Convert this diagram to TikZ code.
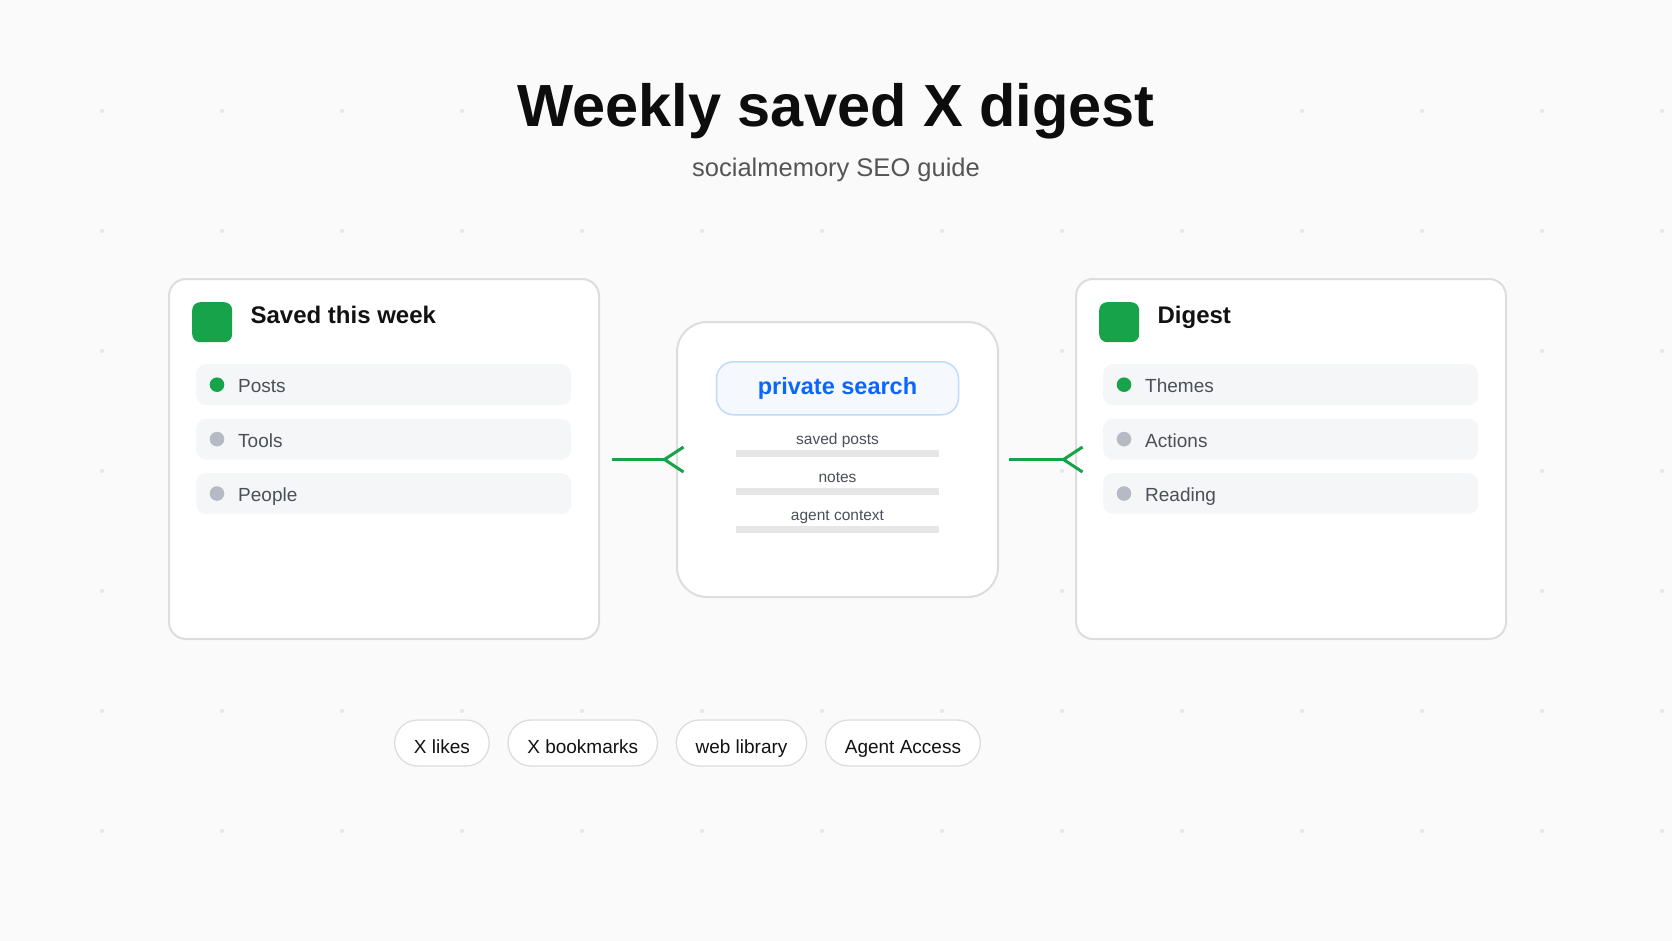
\documentclass[tikz,border=0pt]{standalone}
\usepackage{fontspec}
\setmainfont{Liberation Sans}
\usepackage{tikz}
\usetikzlibrary{arrows.meta,calc,positioning}
\definecolor{bg}{HTML}{FAFAFA}
\definecolor{dotgrey}{HTML}{E4E4E4}
\definecolor{cardline}{HTML}{DDDDDD}
\definecolor{rowfill}{HTML}{F5F6F8}
\definecolor{okgreen}{HTML}{16A34A}
\definecolor{idlegrey}{HTML}{B6BAC4}
\definecolor{rowtext}{HTML}{4B4F58}
\definecolor{subgrey}{HTML}{555555}
\definecolor{searchblue}{HTML}{0A66FF}
\definecolor{searchline}{HTML}{BFDBFE}
\definecolor{searchfill}{HTML}{F5F8FC}
\definecolor{bartone}{HTML}{E6E6E6}
\newcommand{\fsz}[1]{\fontsize{#1}{#1}\selectfont}
\tikzstyle{card} = [rectangle, draw=cardline, line width=2pt, fill=white, rounded corners=17pt, minimum width=430pt, minimum height=360pt, inner sep=0pt]
\tikzstyle{icon} = [rectangle, fill=okgreen, rounded corners=8pt, minimum size=40pt, inner sep=0pt]
\tikzstyle{cardtitle} = [font=\bfseries\fsz{24}, text=black!93, inner sep=0pt, anchor=base west]
\tikzstyle{row} = [rectangle, fill=rowfill, rounded corners=10pt, minimum width=375pt, minimum height=41pt, inner sep=0pt]
\tikzstyle{okdot} = [circle, fill=okgreen, minimum size=14.6pt, inner sep=0pt]
\tikzstyle{idledot} = [okdot, fill=idlegrey]
\tikzstyle{rowlabel} = [font=\fsz{19}, text=rowtext, inner sep=0pt, anchor=base west]
\tikzstyle{searchpill} = [rectangle, draw=searchline, line width=1.5pt, fill=searchfill, rounded corners=17pt, minimum width=242pt, minimum height=53pt, text=searchblue, font=\bfseries\fsz{23.5}]
\tikzstyle{ctxlabel} = [font=\fsz{15.5}, text=rowtext, inner sep=0pt, anchor=base]
\tikzstyle{ctxbar} = [rectangle, fill=bartone, minimum width=203pt, minimum height=7.4pt, inner sep=0pt, anchor=north]
\tikzstyle{link} = [draw=okgreen, line width=3pt, -{Straight Barb[reversed, length=19pt, width=25pt]}]
\tikzstyle{tag} = [rectangle, draw=cardline, line width=1.3pt, fill=white, rounded corners=23pt, minimum height=46pt, inner xsep=19.3pt, inner ysep=0pt, text height=20pt, text depth=0pt, font=\fsz{19}, text=black!93]

\begin{document}
\begin{tikzpicture}[x=1pt, y=-1pt]
      \path[use as bounding box, fill=bg] (0,0) rectangle (1672,941);
      \foreach \gx in {0,...,13}
        \foreach \gy in {0,...,6}
          \fill[dotgrey] ({102+120*\gx},{111+120*\gy}) circle (2pt);
      %
      \node[fill=bg, inner xsep=40pt, inner ysep=6pt, font=\bfseries\fsz{59.5}, text=black!95, anchor=base] (DigestTitle) at (836,126.7) {Weekly saved X digest};
      \node[font=\fsz{25.5}, text=subgrey, anchor=base] (GuideSubtitle) at (836,176.7) {socialmemory SEO guide};
      %
      \node[card, anchor=north west] (SavedCard) at (168,278) {};
      \node[icon, anchor=north west] (SavedIcon) at ($(SavedCard.north west)+(24,24)$) {};
      \node[cardtitle] (SavedTitle) at ($(SavedIcon.east)+(18,1)$) {Saved this week};
      \node[row, anchor=north west] (Posts) at ($(SavedCard.north west)+(28,86)$) {};
      \node[row, below=13pt of Posts] (Tools) {};
      \node[row, below=13pt of Tools] (People) {};
      \node[okdot] (PostsDot) at ($(Posts.west)+(21,0)$) {};
      \node[idledot] (ToolsDot) at ($(Tools.west)+(21,0)$) {};
      \node[idledot] (PeopleDot) at ($(People.west)+(21,0)$) {};
      \node[rowlabel] (PostsText) at ($(Posts.west)+(42,8)$) {Posts};
      \node[rowlabel] (ToolsText) at ($(Tools.west)+(42,8)$) {Tools};
      \node[rowlabel] (PeopleText) at ($(People.west)+(42,8)$) {People};
      %
      \node[card, minimum width=321pt, minimum height=275pt, rounded corners=30pt, anchor=north west] (SearchCard) at (676,321) {};
      \node[searchpill, anchor=north] (PrivateSearch) at ($(SearchCard.north)+(0,40)$) {private search};
      \node[ctxlabel] (SavedPostsLabel) at ($(SearchCard.north)+(0,123.5)$) {saved posts};
      \node[ctxlabel] (NotesLabel) at ($(SearchCard.north)+(0,161.5)$) {notes};
      \node[ctxlabel] (AgentLabel) at ($(SearchCard.north)+(0,199.5)$) {agent context};
      \node[ctxbar] (SavedPostsBar) at ($(SavedPostsLabel.base)+(0,5)$) {};
      \node[ctxbar] (NotesBar) at ($(NotesLabel.base)+(0,5)$) {};
      \node[ctxbar] (AgentBar) at ($(AgentLabel.base)+(0,5)$) {};
      %
      \node[card, anchor=north west] (DigestCard) at (1075,278) {};
      \node[icon, anchor=north west] (DigestIcon) at ($(DigestCard.north west)+(24,24)$) {};
      \node[cardtitle] (DigestHead) at ($(DigestIcon.east)+(18,1)$) {Digest};
      \node[row, anchor=north west] (Themes) at ($(DigestCard.north west)+(28,86)$) {};
      \node[row, below=13pt of Themes] (Actions) {};
      \node[row, below=13pt of Actions] (Reading) {};
      \node[okdot] (ThemesDot) at ($(Themes.west)+(21,0)$) {};
      \node[idledot] (ActionsDot) at ($(Actions.west)+(21,0)$) {};
      \node[idledot] (ReadingDot) at ($(Reading.west)+(21,0)$) {};
      \node[rowlabel] (ThemesText) at ($(Themes.west)+(42,8)$) {Themes};
      \node[rowlabel] (ActionsText) at ($(Actions.west)+(42,8)$) {Actions};
      \node[rowlabel] (ReadingText) at ($(Reading.west)+(42,8)$) {Reading};
      %
      \draw[link, shorten <=12pt, shorten >=-9pt] (SavedCard.east |- SearchCard.west) -- (SearchCard.west);
      \draw[link, shorten <=10pt, shorten >=-9pt] (SearchCard.east) -- (DigestCard.west |- SearchCard.east);
      %
      \node[tag, anchor=west] (XLikes) at (394,743) {X likes};
      \node[tag, right=17.5pt of XLikes] (XBookmarks) {X bookmarks};
      \node[tag, right=17.5pt of XBookmarks] (WebLibrary) {web library};
      \node[tag, right=17.5pt of WebLibrary] (AgentAccess) {Agent Access};
    \end{tikzpicture}
\end{document}
